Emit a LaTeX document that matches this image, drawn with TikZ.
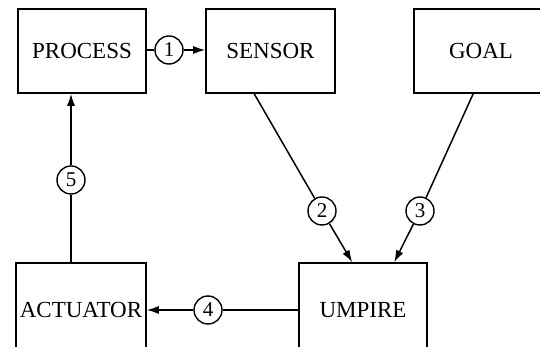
\documentclass[tikz,border=0pt]{standalone}
\usepackage{fontspec}
\setmainfont{Liberation Serif}
\usetikzlibrary{arrows.meta}

\begin{document}
\begin{tikzpicture}[x=1pt,y=1pt,
    blk/.style={draw, line width=1.6pt, minimum width=128pt, minimum height=84pt,
                inner sep=0pt, font=\fontsize{23}{25}\selectfont},
    num/.style={draw, circle, line width=1.4pt, minimum size=28pt, inner sep=0pt,
                font=\fontsize{21}{22}\selectfont},
    arr/.style={-{Latex[length=12pt,width=8pt]}},
    line width=1.5pt]
    \useasboundingbox (0,0) rectangle (540,347);
    \clip (0,0) rectangle (540,347);

    \node[blk] (process) at (82,296) {PROCESS};
    \node[blk, minimum width=129pt] (sensor) at (270.5,296) {SENSOR};
    \node[blk, minimum width=134pt] (goal) at (481,296) {GOAL};
    \node[blk, minimum width=130pt, minimum height=94pt] (actuator) at (81,37) {ACTUATOR};
    \node[blk, minimum height=94pt] (umpire) at (363,37) {UMPIRE};

    \node[num] (n1) at (169,297) {1};
    \node[num] (n2) at (322,136) {2};
    \node[num] (n3) at (420,136) {3};
    \node[num] (n4) at (208,37) {4};
    \node[num] (n5) at (71,167) {5};

    \draw (process.east |- n1) -- (n1);
    \draw[arr] (n1) -- (sensor.west |- n1);

    \draw ([xshift=49pt]sensor.south west) -- (n2);
    \draw[arr] (n2) -- ([xshift=54pt]umpire.north west);

    \draw ([xshift=60pt]goal.south west) -- (n3);
    \draw[arr] (n3) -- ([xshift=96pt]umpire.north west);

    \draw (umpire.west |- n4) -- (n4);
    \draw[arr] (n4) -- (actuator.east |- n4);

    \draw (actuator.north -| n5) -- (n5);
    \draw[arr] (n5) -- (process.south -| n5);
\end{tikzpicture}
\end{document}
